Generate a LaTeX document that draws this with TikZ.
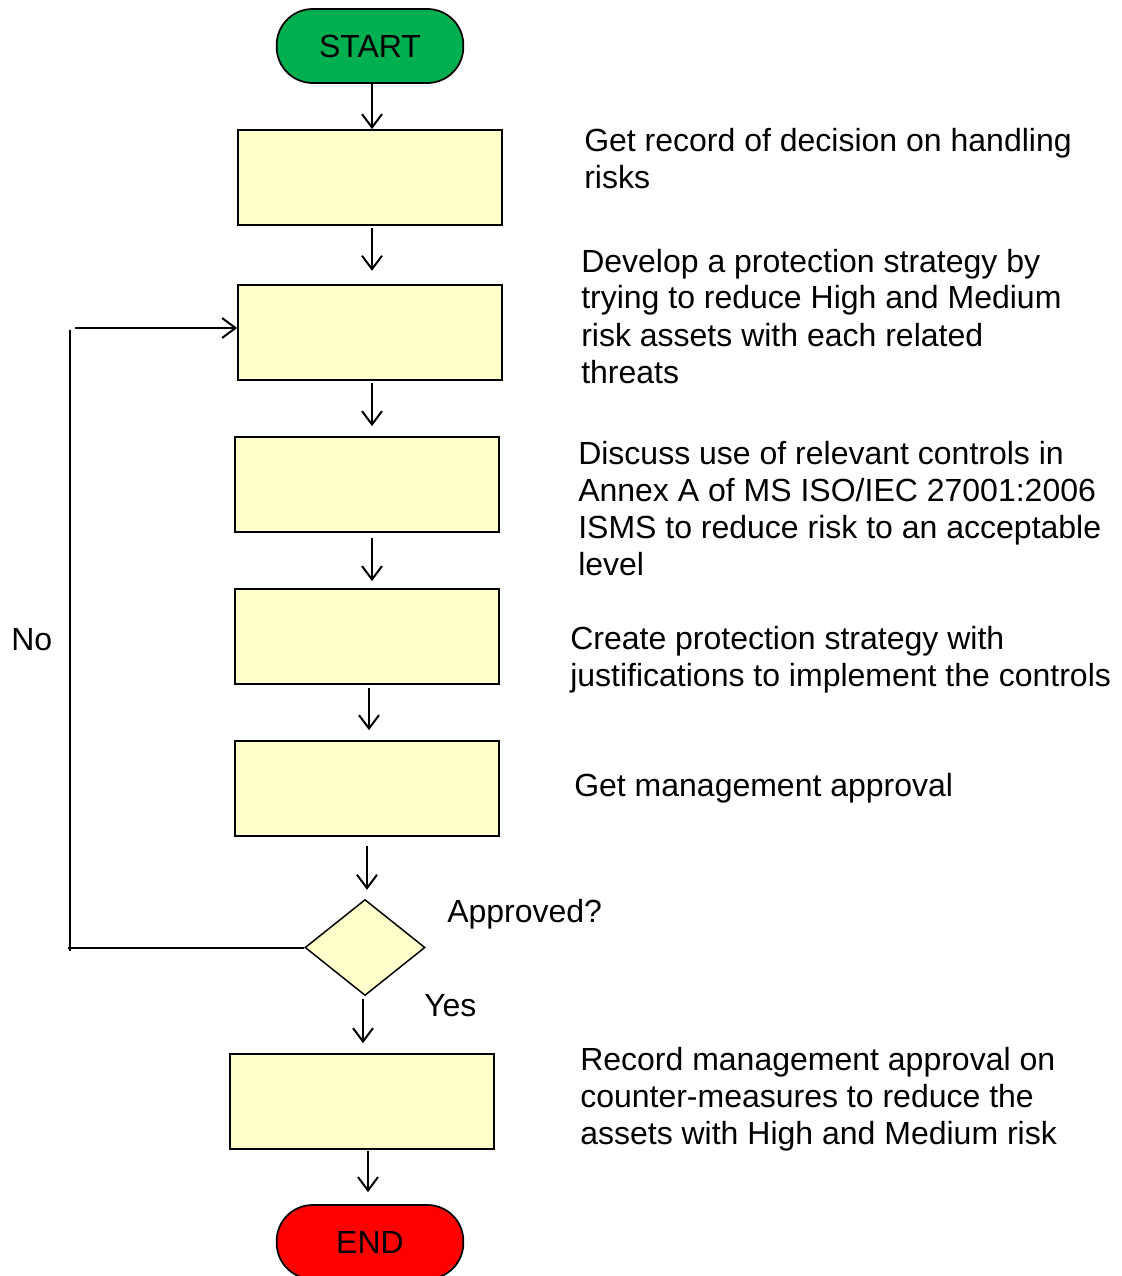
\documentclass[tikz,border=0pt]{standalone}
\usepackage{fontspec}
\setmainfont{Liberation Sans}
\usetikzlibrary{arrows.meta,shapes.geometric}
\definecolor{startgreen}{RGB}{0,176,80}
\definecolor{endred}{RGB}{255,0,0}
\definecolor{boxyellow}{RGB}{255,255,204}
\begin{document}
\begin{tikzpicture}[x=0.75pt,y=-0.75pt,
  every node/.style={font=\fontsize{24pt}{27.75pt}\selectfont},
  terminal/.style={draw=black, line width=1.3pt, rounded corners=27pt,
    minimum width=140pt, minimum height=55.5pt, inner sep=0pt},
  procbox/.style={draw=black, line width=1.3pt, fill=boxyellow,
    minimum width=198pt, minimum height=71.25pt, inner sep=0pt},
  decision/.style={draw=black, line width=1.1pt, fill=boxyellow, shape=diamond,
    minimum width=90pt, minimum height=72pt, inner sep=0pt},
  note/.style={anchor=base west, align=left, inner sep=0pt},
  arr/.style={line width=1.5pt, -{Straight Barb[length=10pt,width=15pt,line width=1.5pt]}},
  plain/.style={line width=1.5pt}]
\useasboundingbox (0,0) rectangle (1121,1276);
\clip (0,0) rectangle (1121,1276);

% flow shapes
\node[terminal, fill=startgreen] (start) at (370,46) {START};
\node[procbox] (b1) at (370,177.5) {};
\node[procbox] (b2) at (370,332.5) {};
\node[procbox] (b3) at (367,484.5) {};
\node[procbox] (b4) at (367,636.5) {};
\node[procbox] (b5) at (367,788.5) {};
\node[decision] (dec) at (365,947.5) {};
\node[procbox] (b6) at (362,1101.5) {};
\node[terminal, fill=endred] (end) at (370,1242) {END};

% descriptions beside the steps (placed by the baseline of their last line)
\node[note] (t1) at (584,189) {Get record of decision on handling\\risks};
\node[note] (t2) at (581,383) {Develop a protection strategy by\\trying to reduce High and Medium\\risk assets with each related\\threats};
\node[note] (t3) at (578,575) {Discuss use of relevant controls in\\Annex A of MS ISO/IEC 27001:2006\\ISMS to reduce risk to an acceptable\\level};
\node[note] (t4) at (570,686) {Create protection strategy with\\justifications to implement the controls};
\node[note] (t5) at (574,796) {Get management approval};
\node[note] (t6) at (580,1144) {Record management approval on\\counter-measures to reduce the\\assets with High and Medium risk};
\node[note] (lq) at (447,922) {Approved?};
\node[note] (ly) at (424,1016) {Yes};
\node[note] (ln) at (11,650) {No};

% main flow arrows
\draw[arr] ([xshift=1.5pt]start.south) -- ([xshift=1.5pt]b1.north);
\draw[arr, shorten <=1.5pt, shorten >=10pt] ([xshift=1.5pt]b1.south) -- ([xshift=1.5pt]b2.north);
\draw[arr, shorten <=1.5pt, shorten >=7.5pt] ([xshift=1.5pt]b2.south) -- ([xshift=3.75pt]b3.north);
\draw[arr, shorten <=3.75pt, shorten >=5.25pt] ([xshift=3.75pt]b3.south) -- ([xshift=3.75pt]b4.north);
\draw[arr, shorten <=2.25pt, shorten >=7.5pt] ([xshift=1.5pt]b4.south) -- ([xshift=1.5pt]b5.north);
\draw[arr, shorten <=6.75pt, shorten >=6.75pt] (b5.south) -- (b5.south |- dec.north);
\draw[arr, shorten <=2.25pt, shorten >=7.5pt] ([xshift=-1.5pt]dec.south) -- ([xshift=-1.5pt]dec.south |- b6.north);
\draw[arr, shorten <=0.75pt, shorten >=9pt] ([xshift=4.5pt]b6.south) -- ([xshift=4.5pt]b6.south |- end.north);

% "No" loop back to the strategy step
\coordinate (vbot) at (70,951);
\coordinate (vtop) at (70,330);
\coordinate (ltop) at (75,328);
\coordinate (lbot) at (68,0);
\draw[plain] (dec.west) -- (dec.west -| lbot);
\draw[plain] (vbot) -- (vtop);
\draw[arr] (ltop) -- (ltop -| b2.west);
\end{tikzpicture}
\end{document}
